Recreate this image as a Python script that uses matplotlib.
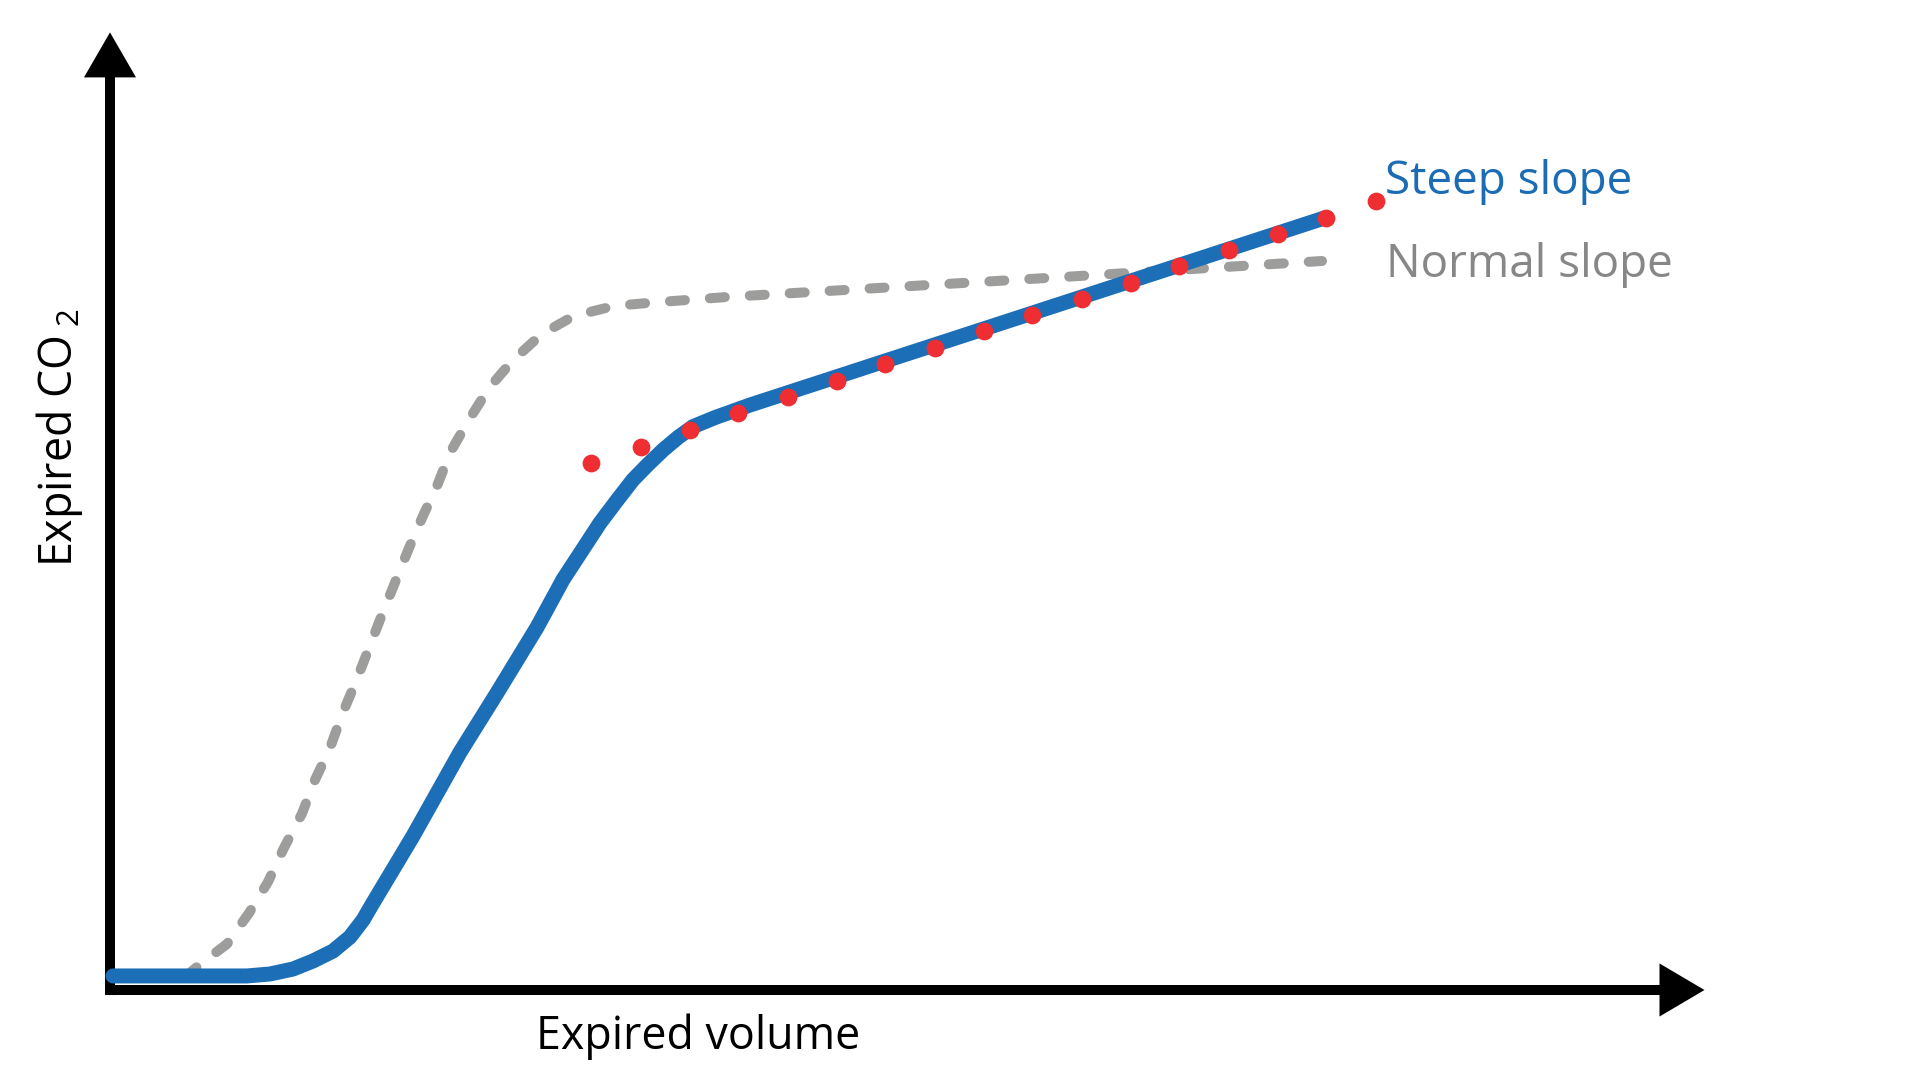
import numpy as np
import matplotlib
matplotlib.use("Agg")
import matplotlib.pyplot as plt

plt.rcParams['font.family'] = ['Open Sans', 'DejaVu Sans']
plt.rcParams['mathtext.fontset'] = 'custom'
plt.rcParams['mathtext.rm'] = 'Open Sans'

# curva "steep slope" (unidades arbitrarias, volumen vs CO2)
steep_x = [0.2, 9.13, 10.67, 12.2, 13.53, 14.87, 16.0, 16.87, 17.53, 20.2,
           23.33, 25.8, 28.47, 30.2, 32.67, 33.8, 34.87, 35.87, 36.87,
           37.87, 38.87, 40.33, 42.67, 81.0]
steep_y = [1.56, 1.56, 1.78, 2.33, 3.22, 4.33, 5.89, 7.78, 9.67, 17.1,
           26.4, 33.0, 40.3, 45.6, 51.9, 54.4, 56.7, 58.4, 60.0,
           61.4, 62.6, 63.6, 65.0, 85.8]

# curva "normal slope"
normal_x = [5.0, 5.87, 7.8, 9.27, 10.53, 11.6, 12.8, 13.6, 14.67, 15.47,
            16.4, 17.27, 18.13, 19.93, 20.87, 21.8, 22.67, 23.87, 25.27,
            26.87, 28.8, 30.93, 33.6, 36.27, 38.73, 41.13, 63.33, 80.8]
normal_y = [1.44, 2.67, 5.11, 8.56, 12.0, 15.8, 19.6, 23.1, 26.9, 30.6,
            34.3, 38.0, 41.7, 49.1, 52.7, 56.0, 59.7, 63.2, 66.9,
            70.0, 72.9, 74.9, 76.0, 76.4, 76.7, 77.0, 79.2, 81.0]

# puntos rojos (extrapolacion de la fase III)
dots_x = [32.1, 35.4, 38.7, 41.9, 45.2, 48.5, 51.7, 55.0, 58.3, 61.5,
          64.8, 68.1, 71.3, 74.6, 77.9, 81.1, 84.4]
dots_y = [58.6, 60.3, 62.2, 64.1, 65.9, 67.7, 69.5, 71.3, 73.2, 75.0,
          76.8, 78.6, 80.4, 82.2, 84.0, 85.8, 87.7]

blue = '#1c6eb7'
red = '#ee2e33'
gray = '#9d9d9c'

fig = plt.figure(figsize=(19.2, 10.79), dpi=100)
ax = fig.add_axes([0, 0, 1, 1])
ax.set_xlim(-7.333, 120.667)
ax.set_ylim(-9.889, 110)
ax.axis('off')

# ejes con flecha
ax.arrow(-0.33, 0, 106.63, 0, width=1.11, head_width=5.9, head_length=3.0,
         length_includes_head=True, color='black', lw=0)
ax.arrow(0, -0.56, 0, 106.96, width=0.667, head_width=3.47, head_length=5.0,
         length_includes_head=True, color='black', lw=0)

ax.plot(normal_x, normal_y, color=gray, lw=7.2, dashes=(1.5, 2.5),
        dash_capstyle='round', solid_capstyle='round')
ax.plot(steep_x, steep_y, color=blue, lw=10.8, solid_capstyle='round',
        solid_joinstyle='round')
ax.plot(dots_x, dots_y, 'o', color=red, ms=12.8, mec='none')

ax.text(85.0, 88.4, 'Steep slope', color='#1c6cb5', fontsize=33,
        ha='left', va='baseline')
ax.text(85.1, 79.2, 'Normal slope', color='#878787', fontsize=33,
        ha='left', va='baseline')
ax.text(28.4, -6.6, 'Expired volume', color='black', fontsize=32.2,
        ha='left', va='baseline')
ax.text(-2.53, 47.0, r'Expired CO$\,_\mathregular{2}$', color='black',
        fontsize=32.2, rotation=90, rotation_mode='anchor',
        ha='left', va='baseline')

fig.savefig('out.png', dpi=100)
